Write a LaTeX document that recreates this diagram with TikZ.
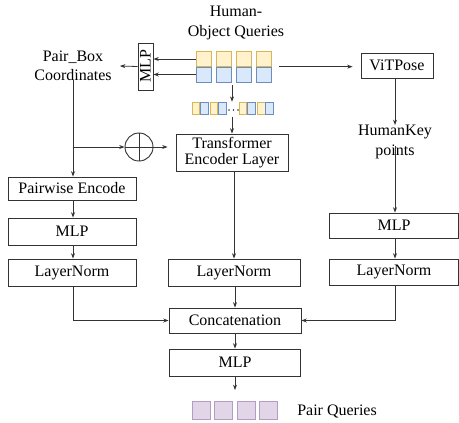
\documentclass[tikz,border=0pt]{standalone}
\usepackage{fontspec}
\setmainfont{Liberation Serif}
\usetikzlibrary{arrows.meta,calc}
\definecolor{ylfill}{HTML}{FFF2CC}\definecolor{yldraw}{HTML}{D6B656}
\definecolor{blfill}{HTML}{DAE8FC}\definecolor{bldraw}{HTML}{6C8EBF}
\definecolor{pufill}{HTML}{E1D5E7}\definecolor{pudraw}{HTML}{9673A6}
\definecolor{ln}{HTML}{333333}
\tikzset{
  box/.style={draw=ln,line width=0.7pt,inner sep=0pt,font=\fontsize{12}{14.5}\selectfont,align=center},
  lbl/.style={inner sep=0pt,font=\fontsize{12}{14.5}\selectfont,align=center},
  arr/.style={draw=ln,line width=0.6pt,-{Stealth[length=4pt,width=3pt]}},
  plain/.style={draw=ln,line width=0.6pt},
  ysq/.style={draw=yldraw,fill=ylfill,line width=0.5pt,inner sep=0pt,minimum width=11.25pt,minimum height=11pt},
  bsq/.style={draw=bldraw,fill=blfill,line width=0.5pt,inner sep=0pt,minimum width=11.25pt,minimum height=11pt},
  ysm/.style={draw=yldraw,fill=ylfill,line width=0.4pt,inner sep=0pt,minimum width=5.6pt,minimum height=9pt},
  bsm/.style={draw=bldraw,fill=blfill,line width=0.4pt,inner sep=0pt,minimum width=5.9pt,minimum height=9pt},
  psq/.style={draw=pudraw!70,fill=pufill,line width=0.5pt,inner sep=0pt,minimum width=13.5pt,minimum height=13.5pt},
}
\begin{document}
\begin{tikzpicture}[x=0.75pt,y=-0.75pt]
\useasboundingbox (0,0) rectangle (459,422);
% texts
\node[lbl] (hoq) at (236,23) {Human-\\Object Queries};
\node[lbl,inner xsep=6pt] (pb) at (73,66) {Pair\_Box\\Coordinates};
\node[lbl] (hk) at (395,142) {HumanKey\\points};
\node[lbl,anchor=west] (pq) at (297,411) {Pair Queries};
% query squares
\foreach \i/\x in {1/203.5,2/223.5,3/243.5,4/263.5}{
  \node[ysq] (q\i y) at (\x,59) {};
  \node[bsq] (q\i b) at (\x,74.5) {};
}
% mini squares
\foreach \i/\x in {1/191.7,2/210,3/239,4/257.3}{
  \node[ysm,anchor=west] (m\i y) at (\x,108) {};
  \node[bsm,anchor=west] (m\i b) at (m\i y.east) {};
}
\foreach \x in {229,233.5,238}{\fill[ln] (\x,110) circle (0.7pt);}
% MLP rotated
\node[box,rotate=90,minimum width=35.25pt,minimum height=11.25pt] (mlp1) at (145.5,66.5) {MLP};
% boxes
\node[box,minimum width=54pt,minimum height=18.75pt] (vit) at (397,65.5) {ViTPose};
\node[box,minimum width=84pt,minimum height=27.75pt] (trans) at (232,152.5) {Transformer\\[-2pt]Encoder Layer};
\node[draw=ln,line width=0.7pt,circle,minimum size=21pt,inner sep=0pt] (circ) at (139,147) {};
\draw[plain] (circ.north) -- (circ.south) (circ.west) -- (circ.east);
\node[box,minimum width=96pt,minimum height=17.25pt] (pe) at (72,188.5) {Pairwise Encode};
\node[box,minimum width=96pt,minimum height=20.25pt] (mlpl) at (72,231.5) {MLP};
\node[box,minimum width=96pt,minimum height=20.25pt] (lnl) at (72,272.5) {LayerNorm};
\node[box,minimum width=99pt,minimum height=20.25pt] (lnm) at (234,272.5) {LayerNorm};
\node[box,minimum width=96.75pt,minimum height=18.75pt] (mlpr) at (394,225.5) {MLP};
\node[box,minimum width=96.75pt,minimum height=19.5pt] (lnr) at (394,272) {LayerNorm};
\node[box,minimum width=99pt,minimum height=18.75pt] (cat) at (235,320.5) {Concatenation};
\node[box,minimum width=98.25pt,minimum height=20.25pt] (mlpb) at (235,362.5) {MLP};
% pair queries squares
\foreach \i/\x in {1/201,2/223,3/246,4/268}{
  \node[psq] (p\i) at (\x,410) {};
}
% coordinates
\coordinate (qd1) at (232,85);
\coordinate (qd2) at (232,117);
\coordinate (pbs) at (73,80);
\coordinate (br) at (73,147);
\coordinate (hks) at (395,146);
\coordinate (pqa) at (235,390);
% connectors
\draw[arr] (q1y.west) -- (q1y.west -| mlp1.south);
\draw[arr] (q1b.west) -- (q1b.west -| mlp1.south);
\draw[arr] (mlp1.north) -- (pb.east);
\draw[arr,shorten <=6pt,shorten >=6pt] (q4y.south east) -- (q4y.south east -| vit.west);
\draw[arr] (qd1) -- (qd1 |- m2y.north);
\draw[arr] (qd2) -- (trans.north);
\draw[arr] (vit.south -| hks) -- (395,125);
\draw[arr] (pbs) -- (pbs |- pe.north);
\draw[arr] (br) -- (circ.west);
\draw[arr,shorten >=6pt] (circ.east) -- (circ.east -| trans.west);
\draw[arr] (pe.south -| pbs) -- (pbs |- mlpl.north);
\draw[arr] (mlpl.south -| pbs) -- (pbs |- lnl.north);
\draw[arr] (trans.south -| lnm.north) -- (lnm.north);
\draw[arr] (hks) -- (hks |- mlpr.north);
\draw[arr] (mlpr.south -| hks) -- (hks |- lnr.north);
\draw[arr] (lnl.south -| pbs) |- (cat.west);
\draw[arr] (lnr.south -| hks) |- (cat.east);
\draw[arr] (lnm.south -| cat.north) -- (cat.north);
\draw[arr] (cat.south) -- (mlpb.north);
\draw[arr] (mlpb.south) -- (pqa);
\end{tikzpicture}
\end{document}
